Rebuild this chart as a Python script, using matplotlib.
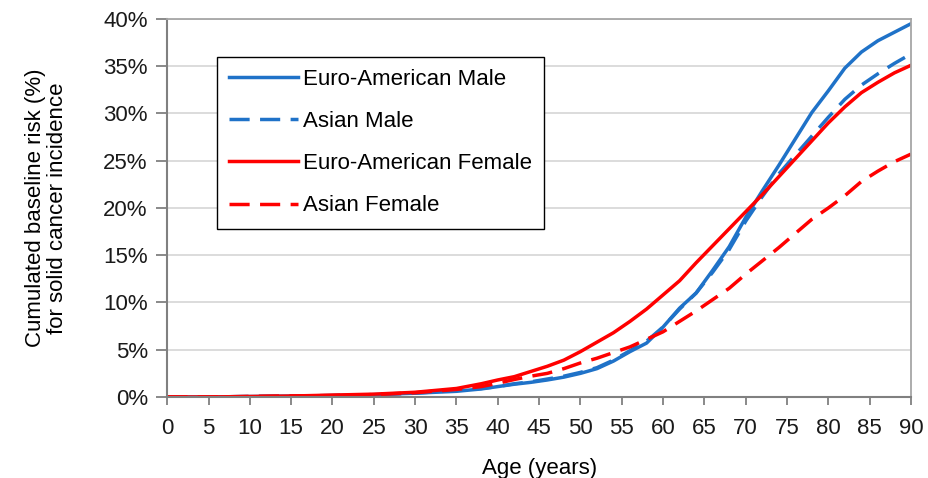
import matplotlib
matplotlib.use("Agg")
import matplotlib.pyplot as plt
from matplotlib.ticker import FuncFormatter, MultipleLocator

# Ages (years) and cumulated baseline risk of solid cancer incidence (%)
ages = [0, 5, 10, 15, 20, 25, 30, 35, 38, 40, 42, 44, 46, 48, 50, 52, 54, 56, 58,
        60, 62, 64, 66, 68, 70, 72, 74, 76, 78, 80, 82, 84, 86, 88, 90]

euro_male = [0, 0, 0.05, 0.1, 0.15, 0.25, 0.4, 0.6, 0.85, 1.1, 1.35, 1.55, 1.8,
             2.1, 2.5, 3.0, 3.8, 4.8, 5.7, 7.4, 9.4, 11.0, 13.4, 15.9, 19.0,
             21.8, 24.5, 27.3, 30.1, 32.4, 34.8, 36.5, 37.7, 38.6, 39.5]
asian_male = [0, 0, 0.05, 0.1, 0.15, 0.25, 0.4, 0.7, 0.9, 1.1, 1.4, 1.6, 1.9,
              2.2, 2.6, 3.1, 3.9, 4.9, 5.9, 7.4, 9.3, 11.0, 13.2, 15.6, 18.6,
              21.2, 23.6, 25.6, 27.6, 29.6, 31.5, 33.0, 34.2, 35.3, 36.3]
euro_female = [0, 0, 0.05, 0.1, 0.2, 0.3, 0.5, 0.9, 1.4, 1.8, 2.15, 2.7, 3.25,
               3.9, 4.8, 5.8, 6.8, 8.0, 9.3, 10.8, 12.3, 14.2, 16.0, 17.8, 19.6,
               21.4, 23.3, 25.2, 27.1, 29.0, 30.7, 32.2, 33.3, 34.3, 35.1]
asian_female = [0, 0, 0.05, 0.1, 0.15, 0.25, 0.45, 0.8, 1.1, 1.45, 1.85, 2.2, 2.5,
                3.0, 3.6, 4.1, 4.7, 5.3, 6.1, 6.9, 8.0, 9.1, 10.3, 11.5, 13.0,
                14.4, 15.8, 17.3, 18.8, 20.0, 21.3, 22.8, 23.9, 24.9, 25.7]

series_labels = ["Euro-American Male", "Asian Male", "Euro-American Female", "Asian Female"]

BLUE = "#1f72c8"
RED = "#ff0000"
FS = 16

plt.rcParams["font.family"] = ["Liberation Sans", "DejaVu Sans"]
plt.rcParams["font.size"] = FS

fig = plt.figure(figsize=(9.29, 4.78), dpi=100)
ax = fig.add_axes([0.18, 0.1695, 0.8006, 0.7908])

lw = 2.5
dash = (5.8, 3.0)
ax.plot(ages, euro_male, color=BLUE, lw=lw, label=series_labels[0])
ax.plot(ages, asian_male, color=BLUE, lw=lw, dashes=dash, label=series_labels[1])
ax.plot(ages, euro_female, color=RED, lw=lw, label=series_labels[2])
ax.plot(ages, asian_female, color=RED, lw=lw, dashes=dash, label=series_labels[3])

ax.set_xlim(0, 90)
ax.set_ylim(0, 40)
ax.xaxis.set_major_locator(MultipleLocator(5))
ax.yaxis.set_major_locator(MultipleLocator(5))
ax.yaxis.set_major_formatter(FuncFormatter(lambda v, _: f"{v:.0f}%"))

# Horizontal gridlines only
ax.grid(axis="y", color="#d9d9d9", lw=1.3)
ax.set_axisbelow(True)

for side in ("left", "bottom"):
    ax.spines[side].set_color("#808080")
    ax.spines[side].set_linewidth(1.5)
for side in ("top", "right"):
    ax.spines[side].set_color("#a6a6a6")
    ax.spines[side].set_linewidth(1.3)

ax.tick_params(axis="both", direction="out", width=1.3,
               color="#808080", labelsize=FS, labelcolor="#1a1a1a")
ax.tick_params(axis="x", length=6, pad=9)
ax.tick_params(axis="y", length=8, pad=6)

ax.set_xlabel("Age (years)", fontsize=FS, labelpad=14)
ax.set_ylabel("Cumulated baseline risk (%)\nfor solid cancer incidence",
              fontsize=FS, linespacing=1.1)
ax.yaxis.set_label_coords(-0.133, 0.5)

leg = ax.legend(loc="upper left", bbox_to_anchor=(0.067, 0.9), borderaxespad=0,
                fontsize=FS, handlelength=3.1, handletextpad=0.2,
                labelspacing=0.95, borderpad=0.55, fancybox=False, framealpha=1)
leg.get_frame().set_edgecolor("#000000")
leg.get_frame().set_linewidth(1.0)

fig.savefig("out.png", dpi=100)
